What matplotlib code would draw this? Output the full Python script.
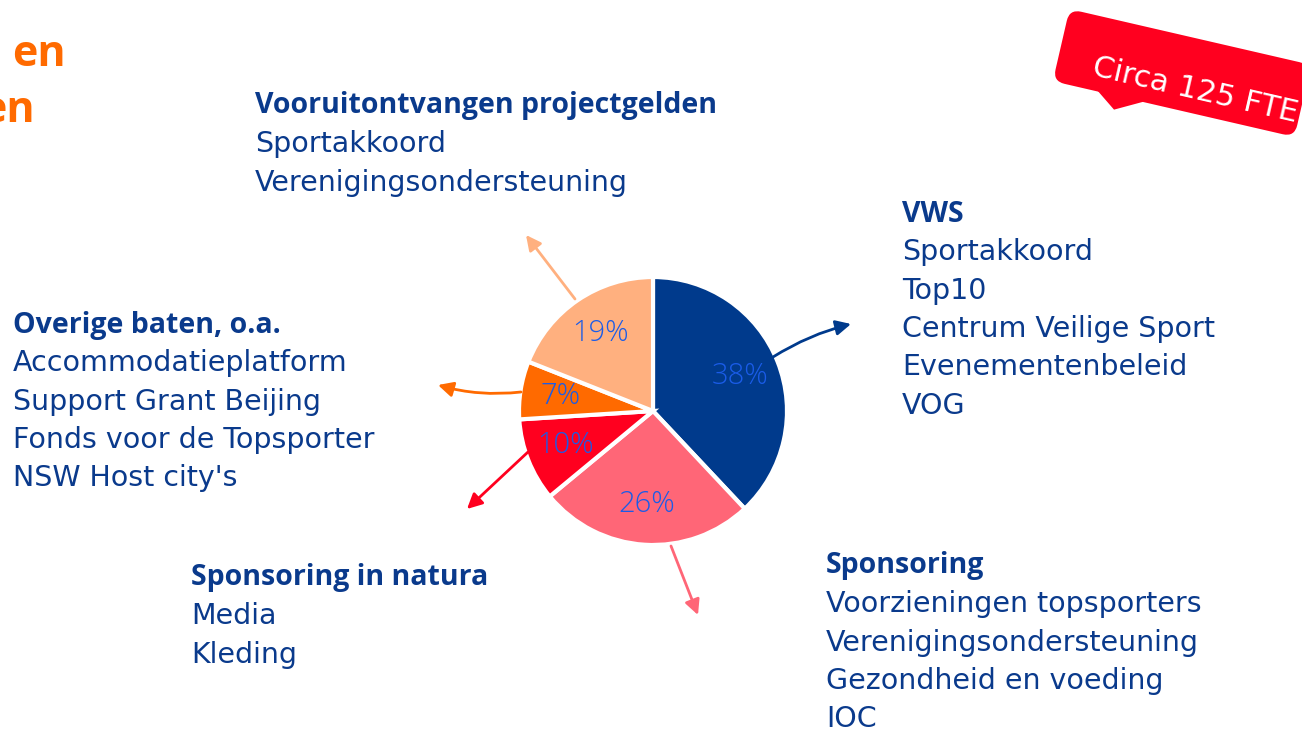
import matplotlib.pyplot as plt
from matplotlib.patches import FancyBboxPatch, Polygon
from matplotlib.transforms import Affine2D

W, H = 1302, 731

# pie data (clockwise from 12 o'clock)
shares = [38, 26, 10, 7, 19]
slice_colors = ['#003A8C', '#FF6677', '#FF001F', '#FF6A00', '#FFB07F']

# label blocks: heading + lines
blocks = [
    ('Vooruitontvangen projectgelden', ['Sportakkoord', 'Verenigingsondersteuning']),
    ('VWS', ['Sportakkoord', 'Top10', 'Centrum Veilige Sport', 'Evenementenbeleid', 'VOG']),
    ('Overige baten, o.a.', ['Accommodatieplatform', 'Support Grant Beijing',
                             'Fonds voor de Topsporter', "NSW Host city's"]),
    ('Sponsoring in natura', ['Media', 'Kleding']),
    ('Sponsoring', ['Voorzieningen topsporters', 'Verenigingsondersteuning',
                    'Gezondheid en voeding', 'IOC']),
]
block_pos = [(255, 106), (902, 214), (13, 325), (191, 578), (826, 566)]

# arrows from the pie to the blocks (pixel coords, start -> end)
arrows = [
    ((773, 357), (851, 324), '#003A8C', -0.08),
    ((671, 546), (698, 615), '#FF6677', 0.0),
    ((528, 452), (467, 509), '#FF001F', 0.0),
    ((521, 392), (438, 385), '#FF6A00', -0.1),
    ((575, 299), (526, 235), '#FFB07F', 0.0),
]

navy = '#0A3A8C'
line_h = 38.3


def y(p):
    return H - p


fig = plt.figure(figsize=(W / 100, H / 100), dpi=100)
ax = fig.add_axes([0, 0, 1, 1])

wedges, _, pcts = ax.pie(shares, colors=slice_colors, startangle=90, counterclock=False,
                         center=(653, y(411)), radius=134, autopct='%d%%', pctdistance=0.7,
                         wedgeprops=dict(edgecolor='white', linewidth=3),
                         textprops=dict(color='#1A5CE8', fontsize=21, family='Open Sans',
                                        fontweight='light'))
ax.set_xlim(0, W)
ax.set_ylim(0, H)
ax.set_aspect('equal')
ax.axis('off')

for (head, lines), (bx, by) in zip(blocks, block_pos):
    ax.text(bx, y(by), head, fontsize=20.5, fontweight='bold', color=navy,
            family='Open Sans', va='center', ha='left')
    for i, ln in enumerate(lines):
        ax.text(bx, y(by + (i + 1) * line_h), ln, fontsize=20.5, color=navy,
                family='DejaVu Sans', va='center', ha='left')

for (x0, y0), (x1, y1), c, rad in arrows:
    ax.annotate('', xy=(x1, y(y1)), xytext=(x0, y(y0)),
                arrowprops=dict(arrowstyle='-|>,head_length=0.9,head_width=0.45', color=c,
                                lw=2, connectionstyle=f'arc3,rad={rad}',
                                shrinkA=0, shrinkB=0))

# orange title fragments at the left edge
ax.text(66, y(54), 'en', fontsize=31, fontweight='bold', color='#FF6A00',
        family='Open Sans', ha='right', va='center')
ax.text(35, y(110), 'en', fontsize=31, fontweight='bold', color='#FF6A00',
        family='Open Sans', ha='right', va='center')

# red tilted callout
cx, cy, ang = 1182, y(73), -13
rot = Affine2D().rotate_deg_around(cx, cy, ang) + ax.transData
box = FancyBboxPatch((cx - 124, cy - 37), 248, 74,
                     boxstyle='round,pad=0,rounding_size=12',
                     facecolor='#FF001F', edgecolor='none', transform=rot)
ax.add_patch(box)
tail = Polygon([(cx - 80, cy - 35), (cx - 58, cy - 51), (cx - 28, cy - 35)],
               closed=True, facecolor='#FF001F', edgecolor='none', transform=rot)
ax.add_patch(tail)
ax.text(cx - 89, cy + 6, 'Circa 125 FTE', rotation=ang, rotation_mode='anchor',
        fontsize=22, color='white', family='DejaVu Sans',
        ha='left', va='center')

fig.savefig('out.png', dpi=100)
